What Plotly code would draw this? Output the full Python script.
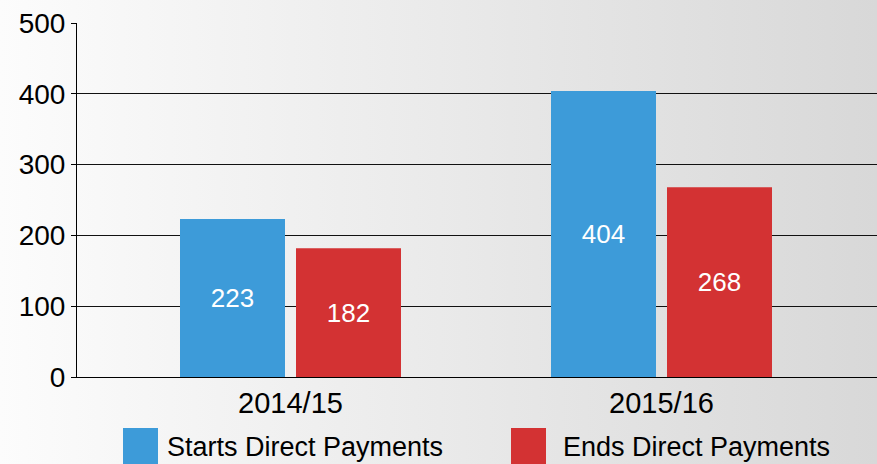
import base64
import plotly.graph_objects as go

categories = ["2014/15", "2015/16"]
starts_values = [223, 404]
ends_values = [182, 268]
series_names = ["Starts Direct Payments", "Ends Direct Payments"]
series_colors = ["#3d9bd9", "#d33233"]
y_ticks = [0, 100, 200, 300, 400, 500]

W, H = 877, 464
ML, MR, MT, MB = 77, 0, 23, 87
PW, PH = W - ML - MR, H - MT - MB
cat_px = 371.0
x_start = -(290.5 - ML) / cat_px

FONT = "Arial, 'Liberation Sans', sans-serif"

svg = (
    "<svg xmlns='http://www.w3.org/2000/svg' width='877' height='464' preserveAspectRatio='none'>"
    "<defs><linearGradient id='g' x1='0' y1='0' x2='1' y2='0'>"
    "<stop offset='0' stop-color='#fcfcfc'/><stop offset='1' stop-color='#d8d8d8'/>"
    "</linearGradient></defs><rect width='877' height='464' fill='url(#g)'/></svg>"
)
svg_uri = "data:image/svg+xml;base64," + base64.b64encode(svg.encode()).decode()

fig = go.Figure()
for name, vals, col in zip(series_names, [starts_values, ends_values], series_colors):
    fig.add_trace(go.Bar(
        x=categories, y=vals, name=name, marker=dict(color=col, line=dict(width=0)),
        text=[str(v) for v in vals], textposition="inside", insidetextanchor="middle",
        textangle=0, constraintext="none",
        textfont=dict(color="white", size=26, family=FONT),
        showlegend=False,
    ))

def px_x(p):
    return (p - ML) / PW

def px_y(p):
    return (H - MB - p) / PH

shapes = []
annotations = []
legend_pos = [(123, 167), (511, 563)]
for (sx, tx), name, col in zip(legend_pos, series_names, series_colors):
    shapes.append(dict(type="rect", xref="paper", yref="paper",
                       x0=px_x(sx), x1=px_x(sx + 35), y0=px_y(428), y1=px_y(480),
                       fillcolor=col, line=dict(width=0), layer="above"))
    annotations.append(dict(xref="paper", yref="paper", x=px_x(tx - 2), y=px_y(446.5),
                            xanchor="left", yanchor="middle", text=name, showarrow=False,
                            font=dict(size=27, color="black", family=FONT)))

fig.update_layout(
    width=W, height=H,
    margin=dict(l=ML, r=MR, t=MT, b=MB, pad=0),
    paper_bgcolor="#ebebeb", plot_bgcolor="rgba(0,0,0,0)",
    barmode="group", bargap=1 - 232 / cat_px, bargroupgap=11 / 116,
    font=dict(family=FONT, color="black"),
    shapes=shapes, annotations=annotations,
    images=[dict(source=svg_uri, xref="paper", yref="paper",
                 x=px_x(0), y=px_y(0), sizex=W / PW, sizey=H / PH,
                 xanchor="left", yanchor="top", sizing="stretch", layer="below")],
    xaxis=dict(range=[x_start, x_start + PW / cat_px], showgrid=False, zeroline=False,
               showline=True, linecolor="black", linewidth=1, ticks="",
               tickfont=dict(size=29, family=FONT, color="black"), ticklabelstandoff=0,
               fixedrange=True),
    yaxis=dict(range=[0, 500], tickvals=y_ticks, showgrid=True, gridcolor="#111111",
               gridwidth=1, zeroline=False, showline=True, linecolor="black", linewidth=1,
               ticks="outside", ticklen=5, tickcolor="black",
               tickfont=dict(size=28, family=FONT, color="black"), fixedrange=True),
)

fig.write_html("out.html", config={"displayModeBar": False},
               post_script="document.body.style.margin='0';document.body.style.overflow='hidden';")
